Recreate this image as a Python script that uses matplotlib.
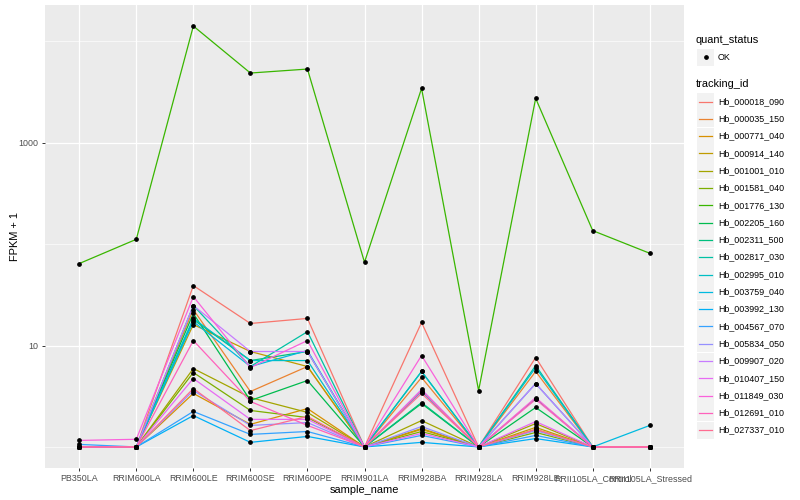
import numpy as np
import matplotlib
matplotlib.use("Agg")
import matplotlib.pyplot as plt
from matplotlib.lines import Line2D
from matplotlib.patches import Rectangle

plt.rcParams['font.family'] = ['Liberation Sans', 'DejaVu Sans']

samples = ["PB350LA", "RRIM600LA", "RRIM600LE", "RRIM600SE", "RRIM600PE", "RRIM901LA",
           "RRIM928BA", "RRIM928LA", "RRIM928LE", "RRII105LA_Control", "RRII105LA_Stressed"]

tracking_ids = ["Hb_000018_090", "Hb_000035_150", "Hb_000771_040", "Hb_000914_140",
                "Hb_001001_010", "Hb_001581_040", "Hb_001776_130", "Hb_002205_160",
                "Hb_002311_500", "Hb_002817_030", "Hb_002995_010", "Hb_003759_040",
                "Hb_003992_130", "Hb_004567_070", "Hb_005834_050", "Hb_009907_020",
                "Hb_010407_150", "Hb_011849_030", "Hb_012691_010", "Hb_027337_010"]

# FPKM per gene, one value per sample
fpkm = [
    [0, 0, 38.0, 15.5, 17.5, 0, 15.9, 0, 6.62, 0, 0],
    [0, 0, 21.6, 2.52, 5.21, 0, 3.84, 0, 4.55, 0, 0],
    [0, 0, 2.37, 0.67, 1.39, 0, 0.49, 0, 0.49, 0, 0],
    [0, 0, 15.1, 7.73, 5.21, 0, 0.52, 0, 0.56, 0, 0],
    [0, 0, 4.93, 2.07, 1.19, 0, 0.82, 0, 0.70, 0, 0],
    [0, 0, 4.42, 1.29, 0.95, 0, 0.42, 0, 0.39, 0, 0],
    [63.3, 110.5, 14125, 4860, 5320, 65.2, 3430, 2.6, 2735, 134.8, 80.2],
    [0, 0, 19.7, 1.87, 3.52, 0, 1.68, 0, 1.45, 0, 0],
    [0, 0, 17.0, 6.11, 7.73, 0, 1.74, 0, 2.00, 0, 0],
    [0, 0, 23.8, 5.21, 12.7, 0, 4.55, 0, 5.35, 0, 0],
    [0, 0, 17.5, 6.11, 6.11, 0, 4.55, 0, 5.07, 0, 0],
    [0, 0, 16.2, 5.21, 7.93, 0, 2.52, 0, 3.22, 0, 0.63],
    [0, 0, 1.04, 0.11, 0.27, 0, 0.11, 0, 0.21, 0, 0],
    [0.06, 0, 1.24, 0.33, 0.42, 0, 0.30, 0, 0.30, 0, 0],
    [0, 0, 2.60, 0.63, 0.74, 0, 0.59, 0, 0.45, 0, 0],
    [0, 0, 23.8, 7.73, 7.73, 0, 2.69, 0, 3.22, 0, 0],
    [0, 0, 3.73, 0.87, 0.87, 0, 0.36, 0, 0.78, 0, 0],
    [0.16, 0.19, 29.4, 5.07, 10.2, 0, 6.97, 0, 2.07, 0, 0],
    [0, 0, 10.2, 1.81, 0.63, 0, 2.60, 0, 1.94, 0, 0],
    [0, 0, 2.77, 0.45, 1.00, 0, 2.37, 0, 0.49, 0, 0],
]

colors = ["#F8766D", "#EA8331", "#D89000", "#C09B00", "#A3A500", "#7CAE00", "#39B600",
          "#00BB4E", "#00BF7D", "#00C1A3", "#00BFC4", "#00BAE0", "#00B0F6", "#35A2FF",
          "#9590FF", "#C77CFF", "#E76BF3", "#FA62DB", "#FF62BC", "#FF6C91"]

fig = plt.figure(figsize=(8, 5), dpi=100)
ax = fig.add_axes([45/800, 32/500, 639/800, 463/500])
ax.set_facecolor("#EBEBEB")

x = np.arange(1, len(samples) + 1)
for vals, c in zip(fpkm, colors):
    ax.plot(x, np.array(vals) + 1, color=c, lw=0.9, zorder=3)
for vals in fpkm:
    ax.plot(x, np.array(vals) + 1, ls="none", marker="o", ms=2.4, color="black", zorder=4)

ax.set_yscale("log")
lo, hi = 0.0, np.log10(max(max(v) for v in fpkm) + 1)
pad = (hi - lo) * 0.05
ax.set_ylim(10 ** (lo - pad), 10 ** (hi + pad))
ax.set_xlim(0.4, len(samples) + 0.6)

ax.set_yticks([10, 1000])
ax.set_yticklabels(["10", "1000"])
ax.set_yticks([1, 100, 10000], minor=True)
ax.yaxis.set_minor_formatter(matplotlib.ticker.NullFormatter())
ax.tick_params(axis="y", which="minor", length=0)
ax.set_xticks(x)
ax.set_xticklabels(samples)
ax.tick_params(which="major", length=2.5, width=0.7, color="#333333",
               labelsize=6.4, labelcolor="#4D4D4D", pad=2)

ax.grid(True, which="major", color="white", lw=0.9)
ax.grid(True, which="minor", axis="y", color="white", lw=0.45)
ax.set_axisbelow(True)
for s in ax.spines.values():
    s.set_visible(False)

ax.set_xlabel("sample_name", fontsize=7.9, labelpad=1)
ax.set_ylabel("FPKM + 1", fontsize=7.9, labelpad=-1)

# legends drawn in pixel space on an overlay
lg = fig.add_axes([0, 0, 1, 1], facecolor="none")
lg.set_xlim(0, 800)
lg.set_ylim(500, 0)
lg.axis("off")

lg.text(696, 40, "quant_status", fontsize=7.9, va="center", ha="left")
lg.add_patch(Rectangle((697, 48.5), 17, 17, facecolor="#F2F2F2", edgecolor="none"))
lg.plot([705.5], [57], marker="o", ms=2.4, color="black")
lg.text(718, 57, "OK", fontsize=6.4, va="center", ha="left")

lg.text(696, 84, "tracking_id", fontsize=7.9, va="center", ha="left")
y0, step = 101.5, 17.3
for i, (name, c) in enumerate(zip(tracking_ids, colors)):
    yy = y0 + i * step
    lg.add_patch(Rectangle((697, yy - 8.5), 17, 17, facecolor="#F2F2F2", edgecolor="none"))
    lg.add_line(Line2D([699, 712], [yy, yy], color=c, lw=0.9))
    lg.text(718, yy, name, fontsize=6.4, va="center", ha="left")

fig.savefig("out.png", dpi=100)
